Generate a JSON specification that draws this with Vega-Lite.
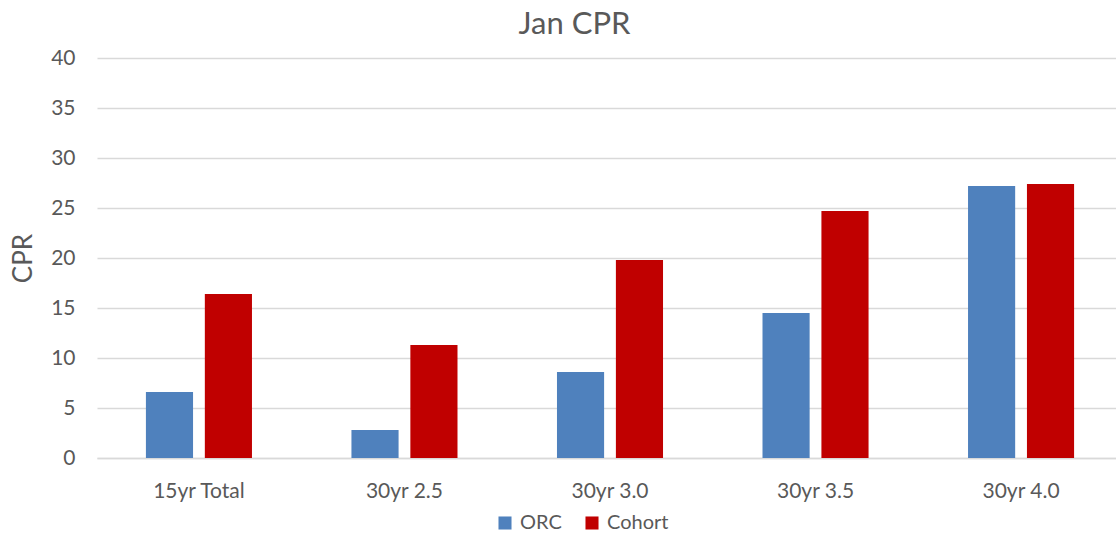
{
  "$schema": "https://vega.github.io/schema/vega-lite/v6.json",
  "autosize": {"type": "none"},
  "width": 1019,
  "height": 400,
  "padding": {"left": 97, "top": 58, "right": 0, "bottom": 75},
  "background": "white",
  "title": {"text": "Jan CPR", "font": "Lato", "fontSize": 31, "fontWeight": "normal", "color": "#595959", "offset": 6, "dx": -32, "anchor": "middle"},
  "config": {"view": {"stroke": null}, "font": "Lato"},
  "data": {"values": [
    {"category": "15yr Total", "series": "ORC", "value": 6.6},
    {"category": "15yr Total", "series": "Cohort", "value": 16.4},
    {"category": "30yr 2.5", "series": "ORC", "value": 2.8},
    {"category": "30yr 2.5", "series": "Cohort", "value": 11.3},
    {"category": "30yr 3.0", "series": "ORC", "value": 8.6},
    {"category": "30yr 3.0", "series": "Cohort", "value": 19.8},
    {"category": "30yr 3.5", "series": "ORC", "value": 14.5},
    {"category": "30yr 3.5", "series": "Cohort", "value": 24.7},
    {"category": "30yr 4.0", "series": "ORC", "value": 27.2},
    {"category": "30yr 4.0", "series": "Cohort", "value": 27.4}
  ]},
  "mark": {"type": "bar"},
  "encoding": {
    "x": {"field": "category", "type": "nominal", "sort": null, "title": null,
      "scale": {"paddingInner": 0.484, "paddingOuter": 0.238, "range": [0, 1026]},
      "axis": {"labelAngle": 0, "labelFont": "Lato", "labelFontSize": 21, "labelColor": "#595959", "labelPadding": 22, "ticks": false, "domainColor": "#d9d9d9", "domainWidth": 1.5}},
    "xOffset": {"field": "series", "type": "nominal", "sort": ["ORC", "Cohort"], "scale": {"paddingInner": 0.2}},
    "y": {"field": "value", "type": "quantitative", "title": "CPR",
      "scale": {"domain": [0, 40], "nice": false},
      "axis": {"values": [0, 5, 10, 15, 20, 25, 30, 35, 40], "labelFont": "Lato", "labelFontSize": 21, "labelColor": "#595959", "labelPadding": 22, "ticks": false, "domain": false, "gridColor": "#d9d9d9", "gridWidth": 1.5, "titleFont": "Lato", "titleFontSize": 26, "titleFontWeight": "normal", "titleColor": "#595959", "titlePadding": 14}},
    "color": {"field": "series", "type": "nominal", "sort": ["ORC", "Cohort"],
      "scale": {"domain": ["ORC", "Cohort"], "range": ["#4f81bd", "#c00000"]},
      "legend": {"title": null, "orient": "none", "legendX": 398, "legendY": 455, "direction": "horizontal", "symbolType": "square", "symbolSize": 170, "symbolStrokeWidth": 0, "labelFont": "Lato", "labelFontSize": 20, "labelColor": "#595959", "columnPadding": 20, "labelOffset": 5}}
  }
}
